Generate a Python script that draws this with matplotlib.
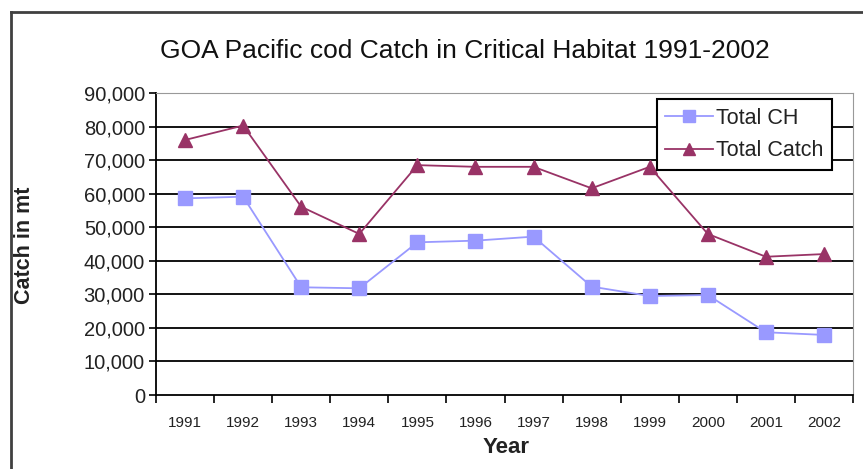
import matplotlib.pyplot as plt
from matplotlib.lines import Line2D
from matplotlib.ticker import FuncFormatter, FixedLocator

years = ['1991', '1992', '1993', '1994', '1995', '1996',
         '1997', '1998', '1999', '2000', '2001', '2002']
total_ch = [58600, 59100, 32100, 31800, 45500, 46000,
            47200, 32300, 29500, 29800, 18700, 17900]
total_catch = [76000, 80300, 56100, 48000, 68500, 68000,
               68000, 61600, 68000, 48000, 41200, 42000]
y_ticks = list(range(0, 90001, 10000))

plain = ['Liberation Sans', 'DejaVu Sans']


def main():
    fig = plt.figure(figsize=(8.63, 4.69), dpi=100)
    W, H = 863, 469
    ax = fig.add_axes([156 / W, 1 - 395 / H, (853 - 156) / W, (395 - 93) / H])

    # outer chart frame (cut at right and bottom)
    fig.add_artist(Line2D([11 / W, 11 / W], [0, 1 - 12 / H], color='#404040', lw=2))
    fig.add_artist(Line2D([11 / W, 1], [1 - 12 / H, 1 - 12 / H], color='#404040', lw=2))

    x = list(range(len(years)))
    ax.plot(x, total_ch, color='#9999FF', marker='s', markersize=10, lw=1.3,
            label='Total CH', zorder=3)
    ax.plot(x, total_catch, color='#993366', marker='^', markersize=10, lw=1.3,
            label='Total Catch', zorder=3)

    ax.set_xlim(-0.5, len(years) - 0.5)
    ax.set_ylim(0, 90000)

    # gridlines
    for v in y_ticks[1:-1]:
        ax.axhline(v, color='black', lw=1.3, zorder=1)

    ax.set_yticks(y_ticks)
    ax.yaxis.set_major_formatter(FuncFormatter(lambda v, p: f'{int(v):,}'))
    ax.tick_params(axis='y', direction='out', length=5, width=1.2, labelsize=14.5, pad=3)
    for t in ax.get_yticklabels():
        t.set_family(plain)
        t.set_color('#222222')

    # category ticks between points, labels centred
    ax.xaxis.set_major_locator(FixedLocator([i - 0.5 for i in range(len(years) + 1)]))
    ax.xaxis.set_major_formatter(FuncFormatter(lambda v, p: ''))
    ax.xaxis.set_minor_locator(FixedLocator(x))
    ax.set_xticklabels(years, minor=True)
    ax.tick_params(axis='x', which='major', direction='out', length=6, width=1.2)
    ax.tick_params(axis='x', which='minor', length=0, labelsize=11, pad=20)
    for t in ax.get_xticklabels(minor=True):
        t.set_family(plain)
        t.set_color('#222222')
        t.set_va('center')

    for side in ['top', 'right']:
        ax.spines[side].set_color('#999999')
    for side in ['left', 'bottom']:
        ax.spines[side].set_color('black')
        ax.spines[side].set_linewidth(1.3)

    fig.text(465 / W, 1 - 51 / H, 'GOA Pacific cod Catch in Critical Habitat 1991-2002',
             ha='center', va='center', fontsize=19, family=plain, color='#111111')
    fig.text(24 / W, 1 - 245 / H, 'Catch in mt', rotation=90, ha='center', va='center',
             fontsize=15.5, fontweight='bold', family=plain, color='#222222')
    fig.text(506 / W, 1 - 447 / H, 'Year', ha='center', va='center',
             fontsize=16, fontweight='bold', family=plain, color='#222222')

    leg = ax.legend(loc='upper right',
                    bbox_to_anchor=((832 - 156) / (853 - 156), 1 - (99 - 93) / (395 - 93)),
                    fancybox=False, edgecolor='black', framealpha=1,
                    handlelength=2.2, handletextpad=0.15, borderpad=0.4,
                    labelspacing=0.55, borderaxespad=0, markerscale=0.85,
                    prop={'family': plain, 'size': 15.5})
    leg.get_frame().set_linewidth(1.5)
    for t in leg.get_texts():
        t.set_color('#222222')

    fig.savefig('out.png', dpi=100)


if __name__ == '__main__':
    main()
